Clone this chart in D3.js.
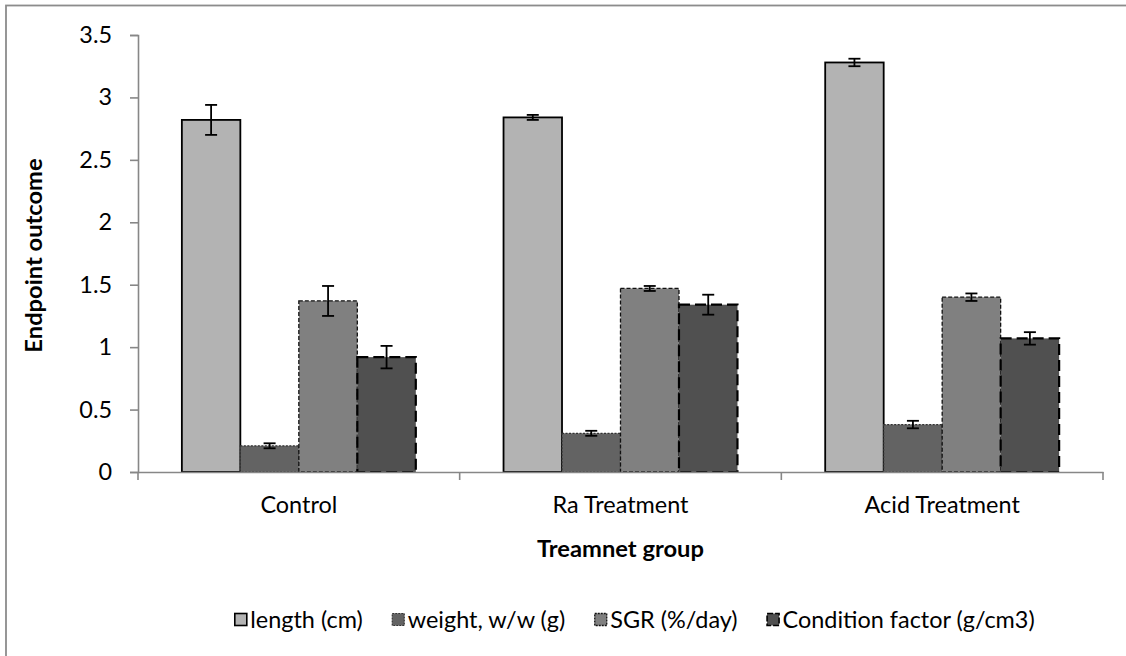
<!DOCTYPE html>
<html><head><meta charset="utf-8">
<script src="https://cdn.jsdelivr.net/npm/d3@7"></script>
<style>body{margin:0;background:#fff}svg{display:block}</style>
</head><body>
<svg id="c" width="1126" height="656"></svg>
<script>
const categories = ["Control", "Ra Treatment", "Acid Treatment"];
const seriesNames = ["length (cm)", "weight, w/w (g)", "SGR (%/day)", "Condition factor (g/cm3)"];
const lengthVals = [2.82, 2.84, 3.28];
const lengthErr  = [0.12, 0.02, 0.03];
const weightVals = [0.21, 0.31, 0.38];
const weightErr  = [0.02, 0.02, 0.03];
const sgrVals    = [1.37, 1.47, 1.40];
const sgrErr     = [0.12, 0.02, 0.03];
const cfVals     = [0.92, 1.34, 1.07];
const cfErr      = [0.09, 0.08, 0.05];
const yTicks = [0, 0.5, 1, 1.5, 2, 2.5, 3, 3.5];

const vals = [lengthVals, weightVals, sgrVals, cfVals];
const errs = [lengthErr, weightErr, sgrErr, cfErr];
const styles = [
  {fill:"#b3b3b3", stroke:"#000", sw:1.8, dash:null},
  {fill:"#636363", stroke:"#333", sw:1.2, dash:"2,1.5"},
  {fill:"#808080", stroke:"#111", sw:1.3, dash:"4,2"},
  {fill:"#505050", stroke:"#000", sw:2.2, dash:"11,5"}
];
const FONT = "Lato, 'Open Sans', sans-serif";

const svg = d3.select("#c");
const L = 138, R = 1103, T = 35, B = 472;

// outer border
svg.append("rect").attr("x",6).attr("y",5.5).attr("width",1130).attr("height",660)
  .attr("fill","none").attr("stroke","#8c8c8c").attr("stroke-width",1.8);

const y = d3.scaleLinear().domain([0,3.5]).range([B,T]);
const x0 = d3.scaleBand().domain(categories).range([L,R]).paddingInner(0).paddingOuter(0);
const x1 = d3.scaleBand().domain(d3.range(4)).range([0,x0.bandwidth()]).paddingInner(0).paddingOuter(0.75);

function measure(text, size, weight){
  const t = svg.append("text").attr("font-family",FONT).attr("font-size",size).attr("font-weight",weight||"normal").text(text);
  const w = t.node().getComputedTextLength(); t.remove();
  return w;
}
function fitSize(text, targetW, weight){ return 20*targetW/measure(text,20,weight); }
const tickSize = fitSize("Ra Treatment", 136);
const titleSize = fitSize("Treamnet group", 167, "bold");
const legSize = tickSize;

// y axis
const yAxis = d3.axisLeft(y).tickValues(yTicks).tickSize(8).tickPadding(18).tickFormat(d3.format("~g"));
const gy = svg.append("g").attr("transform",`translate(${L},0)`).call(yAxis);
gy.select(".domain").attr("stroke","#878787").attr("stroke-width",1.6);
gy.selectAll(".tick line").attr("stroke","#878787").attr("stroke-width",1.6);
gy.selectAll(".tick text").attr("font-family",FONT).attr("font-size",tickSize).attr("fill","#000");

// bars
const groups = svg.append("g").selectAll("g").data(categories).join("g")
  .attr("transform",d=>`translate(${x0(d)},0)`);
groups.each(function(cat,ci){
  const g = d3.select(this);
  for(let s=0;s<4;s++){
    const st = styles[s];
    g.append("rect").attr("x",x1(s)).attr("width",x1.bandwidth())
      .attr("y",y(vals[s][ci])).attr("height",y(0)-y(vals[s][ci]))
      .attr("fill",st.fill).attr("stroke",st.stroke).attr("stroke-width",st.sw)
      .attr("stroke-dasharray",st.dash);
  }
});

// x axis
const xAxis = d3.axisBottom(x0).tickSize(0).tickPadding(24);
const gx = svg.append("g").attr("transform",`translate(0,${B})`).call(xAxis);
gx.select(".domain").attr("stroke","#878787").attr("stroke-width",1.6);
gx.selectAll(".tick text").attr("font-family",FONT).attr("font-size",tickSize).attr("fill","#000");
const bounds = categories.map(c=>x0(c)).concat([R]);
gx.selectAll(".bnd").data(bounds).join("line").attr("class","bnd")
  .attr("x1",d=>d).attr("x2",d=>d).attr("y1",0).attr("y2",8)
  .attr("stroke","#878787").attr("stroke-width",1.6);

// error bars
groups.each(function(cat,ci){
  const g = d3.select(this);
  for(let s=0;s<4;s++){
    const cx = x1(s)+x1.bandwidth()/2, v = vals[s][ci], e = errs[s][ci];
    const eg = g.append("g").attr("stroke","#000").attr("stroke-width",1.8);
    eg.append("line").attr("x1",cx).attr("x2",cx).attr("y1",y(v+e)).attr("y2",y(v-e));
    eg.append("line").attr("x1",cx-6).attr("x2",cx+6).attr("y1",y(v+e)).attr("y2",y(v+e));
    eg.append("line").attr("x1",cx-6).attr("x2",cx+6).attr("y1",y(v-e)).attr("y2",y(v-e));
  }
});

// axis titles
svg.append("text").attr("x",(L+R)/2).attr("y",549).attr("dy","0.35em").attr("text-anchor","middle")
  .attr("font-family",FONT).attr("font-weight","bold").attr("font-size",titleSize).text("Treamnet group");
svg.append("text").attr("transform",`translate(34,${(T+B)/2+2}) rotate(-90)`).attr("dy","0.35em").attr("text-anchor","middle")
  .attr("font-family",FONT).attr("font-weight","bold").attr("font-size",titleSize).text("Endpoint outcome");

// legend: symbol 13, gap 3, text, gap between items; centred like the reference
const widths = seriesNames.map(s=>measure(s, legSize));
const itemW = widths.map(w=>13+3+w);
const gap = 29;
const total = d3.sum(itemW) + gap*(itemW.length-1);
let cx0 = 634.5 - total/2;
const legX = itemW.map(w=>{ const x = cx0; cx0 += w + gap; return x; });
const lg = svg.append("g").selectAll("g").data(seriesNames).join("g")
  .attr("transform",(d,i)=>`translate(${legX[i]},620)`);
lg.append("rect").attr("x",0.5).attr("y",-6.5).attr("width",12).attr("height",12)
  .attr("fill",(d,i)=>styles[i].fill).attr("stroke",(d,i)=>styles[i].stroke)
  .attr("stroke-width",(d,i)=>Math.min(styles[i].sw,1.6))
  .attr("stroke-dasharray",(d,i)=>styles[i].dash? (i==3?"6,2":"2,1") : null);
lg.append("text").attr("x",16).attr("y",0).attr("dy","0.35em")
  .attr("font-family",FONT).attr("font-size",legSize).attr("fill","#000").text(d=>d);
</script>
</body></html>
